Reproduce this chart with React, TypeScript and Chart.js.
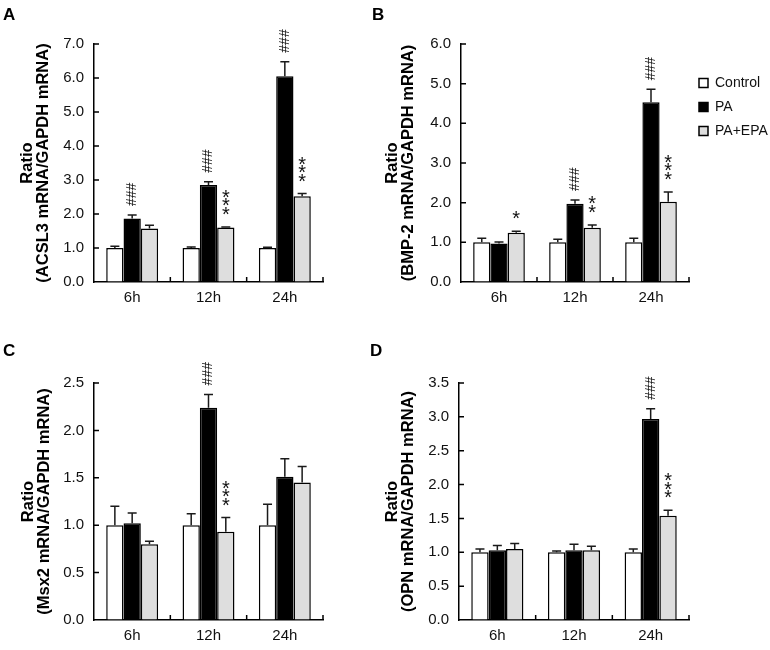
import React, { useEffect, useRef } from 'react';
import { Chart, registerables } from 'chart.js';

Chart.register(...registerables);

const FONT = '"Liberation Sans", Arial, Helvetica, sans-serif';

// ---- shared ----
const categories = ['6h', '12h', '24h'];
const seriesNames = ['Control', 'PA', 'PA+EPA'];
const seriesFill = ['#ffffff', '#000000', '#dedede'];

// ---- Panel A: ACSL3 ----
const aControl = [1.0, 1.0, 1.0];
const aControlErr = [0.05, 0.03, 0.02];
const aPA = [1.87, 2.85, 6.05];
const aPAErr = [0.1, 0.1, 0.43];
const aEPA = [1.57, 1.6, 2.52];
const aEPAErr = [0.1, 0.02, 0.08];
const aPAMarks = ['###', '###', '###'];
const aEPAMarks = ['', '***', '***'];

// ---- Panel B: BMP-2 ----
const bControl = [1.0, 1.0, 1.0];
const bControlErr = [0.1, 0.08, 0.1];
const bPA = [0.97, 1.97, 4.53];
const bPAErr = [0.04, 0.1, 0.33];
const bEPA = [1.24, 1.37, 2.02];
const bEPAErr = [0.04, 0.07, 0.25];
const bPAMarks = ['', '###', '###'];
const bEPAMarks = ['*', '**', '***'];

// ---- Panel C: Msx2 ----
const cControl = [1.0, 1.0, 1.0];
const cControlErr = [0.2, 0.12, 0.22];
const cPA = [1.02, 2.24, 1.51];
const cPAErr = [0.11, 0.14, 0.19];
const cEPA = [0.8, 0.93, 1.45];
const cEPAErr = [0.03, 0.15, 0.17];
const cPAMarks = ['', '###', ''];
const cEPAMarks = ['', '***', ''];

// ---- Panel D: OPN ----
const dControl = [1.0, 1.0, 1.0];
const dControlErr = [0.05, 0.02, 0.05];
const dPA = [1.03, 1.03, 2.97];
const dPAErr = [0.07, 0.09, 0.15];
const dEPA = [1.05, 1.03, 1.54];
const dEPAErr = [0.08, 0.06, 0.08];
const dPAMarks = ['', '', '###'];
const dEPAMarks = ['', '', '***'];

// y-axis settings
const aTicks = { max: 7, step: 1 };
const bTicks = { max: 6, step: 1 };
const cTicks = { max: 2.5, step: 0.5 };
const dTicks = { max: 3.5, step: 0.5 };

// inward tick marks on both axes
const innerTicksPlugin = {
  id: 'innerTicks',
  afterDraw(chart: any) {
    const ctx = chart.ctx;
    const xs = chart.scales.x;
    const ys = chart.scales.y;
    const area = chart.chartArea;
    ctx.save();
    ctx.strokeStyle = '#000';
    ctx.lineWidth = 1.5;
    ctx.beginPath();
    ys.ticks.forEach((t: any) => {
      const y = ys.getPixelForValue(t.value);
      if (Math.abs(y - area.bottom) < 1) return;
      ctx.moveTo(area.left, y);
      ctx.lineTo(area.left + 5, y);
    });
    const n = chart.data.labels.length;
    for (let i = 0; i < n; i++) {
      const x = xs.getPixelForValue(i + 0.5);
      ctx.moveTo(x, area.bottom);
      ctx.lineTo(x, area.bottom - 5);
    }
    ctx.stroke();
    ctx.restore();
  },
};

const errorBarPlugin = {
  id: 'errorBarsAndMarks',
  afterDatasetsDraw(chart: any) {
    const ctx = chart.ctx;
    const yScale = chart.scales.y;
    chart.data.datasets.forEach((ds: any, di: number) => {
      const meta = chart.getDatasetMeta(di);
      const errs = ds.errors || [];
      const marks = ds.marks || [];
      meta.data.forEach((bar: any, i: number) => {
        const v = ds.data[i];
        const e = errs[i] || 0;
        const x = bar.x;
        const top = yScale.getPixelForValue(v);
        const et = yScale.getPixelForValue(v + e);
        ctx.save();
        ctx.strokeStyle = '#1a1a1a';
        ctx.lineWidth = 1.5;
        ctx.beginPath();
        ctx.moveTo(x, top);
        ctx.lineTo(x, et);
        ctx.moveTo(x - 4.5, et);
        ctx.lineTo(x + 4.5, et);
        ctx.stroke();
        const mark = marks[i];
        if (mark) {
          ctx.fillStyle = '#111';
          if (mark[0] === '#') {
            ctx.font = `14px ${FONT}`;
            const w = ctx.measureText(mark).width;
            const cy = et - 9 - w / 2;
            ctx.translate(x, cy);
            ctx.rotate(-Math.PI / 2);
            ctx.textAlign = 'center';
            ctx.textBaseline = 'middle';
            ctx.fillText(mark, 0, 0);
          } else {
            ctx.font = `20px ${FONT}`;
            ctx.textAlign = 'center';
            ctx.textBaseline = 'alphabetic';
            const m = ctx.measureText('*');
            const asc = m.actualBoundingBoxAscent;
            const desc = m.actualBoundingBoxDescent;
            const h = asc + desc;
            const step = 8.5;
            const n = mark.length;
            for (let k = 0; k < n; k++) {
              const cy = et - 12 - h / 2 - (n - 1 - k) * step;
              ctx.fillText('*', x, cy + (asc - desc) / 2);
            }
          }
        }
        ctx.restore();
      });
    });
  },
};

type PanelSpec = {
  values: number[][];
  errors: number[][];
  marks: string[][];
  max: number;
  step: number;
  title: string;
  padTop: number;
  padRight: number;
  yWidth: number;
  xHeight: number;
  titlePad: number;
  legend: boolean;
};

function makeConfig(p: PanelSpec): any {
  const gridOpts = {
    display: true,
    drawOnChartArea: false,
    drawTicks: false,
  };
  return {
    type: 'bar',
    data: {
      labels: categories,
      datasets: seriesNames.map((name, si) => ({
        label: name,
        data: p.values[si],
        errors: p.errors[si],
        marks: p.marks[si],
        backgroundColor: seriesFill[si],
        borderColor: '#000',
        borderWidth: 1.5,
        categoryPercentage: 0.68,
        barPercentage: 1.0,
      })),
    },
    options: {
      responsive: false,
      maintainAspectRatio: false,
      animation: false,
      devicePixelRatio: 1,
      layout: { padding: { top: p.padTop, right: p.padRight, left: 0, bottom: 0 } },
      plugins: {
        tooltip: { enabled: false },
        legend: p.legend
          ? {
              display: true,
              position: 'right',
              align: 'start',
              maxWidth: 81,
              title: { display: true, text: '', padding: { top: 10, bottom: 0 }, font: { size: 10, family: FONT } },
              labels: {
                boxWidth: 9,
                boxHeight: 9,
                padding: 10,
                color: '#111',
                font: { size: 14, family: FONT },
              },
            }
          : { display: false },
      },
      scales: {
        x: {
          grid: { ...gridOpts, offset: true },
          border: { display: true, color: '#000', width: 1.5 },
          ticks: { color: '#111', font: { size: 15, family: FONT }, padding: 7 },
          afterFit: (s: any) => {
            s.height = p.xHeight;
          },
        },
        y: {
          min: 0,
          max: p.max,
          grid: gridOpts,
          border: { display: true, color: '#000', width: 1.5 },
          ticks: {
            stepSize: p.step,
            color: '#111',
            font: { size: 15, family: FONT },
            padding: 10,
            callback: (v: any) => Number(v).toFixed(1),
          },
          title: {
            display: true,
            text: ['Ratio', p.title],
            color: '#000',
            font: { size: 16.5, weight: 'bold', family: FONT, lineHeight: 0.95 },
            padding: { top: p.titlePad, bottom: 0 },
          },
          afterFit: (s: any) => {
            s.width = p.yWidth;
          },
        },
      },
    },
    plugins: [errorBarPlugin, innerTicksPlugin],
  };
}

const panels: { key: string; left: number; top: number; spec: PanelSpec }[] = [
  {
    key: 'A',
    left: 0,
    top: 0,
    spec: {
      values: [aControl, aPA, aEPA],
      errors: [aControlErr, aPAErr, aEPAErr],
      marks: [[], aPAMarks, aEPAMarks],
      max: aTicks.max,
      step: aTicks.step,
      title: '(ACSL3 mRNA/GAPDH mRNA)',
      padTop: 44,
      padRight: 62,
      yWidth: 94,
      xHeight: 43,
      titlePad: 20,
      legend: false,
    },
  },
  {
    key: 'B',
    left: 385,
    top: 0,
    spec: {
      values: [bControl, bPA, bEPA],
      errors: [bControlErr, bPAErr, bEPAErr],
      marks: [[], bPAMarks, bEPAMarks],
      max: bTicks.max,
      step: bTicks.step,
      title: '(BMP-2 mRNA/GAPDH mRNA)',
      padTop: 44,
      padRight: 0,
      yWidth: 76,
      xHeight: 43,
      titlePad: 0,
      legend: true,
    },
  },
  {
    key: 'C',
    left: 0,
    top: 325,
    spec: {
      values: [cControl, cPA, cEPA],
      errors: [cControlErr, cPAErr, cEPAErr],
      marks: [[], cPAMarks, cEPAMarks],
      max: cTicks.max,
      step: cTicks.step,
      title: '(Msx2 mRNA/GAPDH mRNA)',
      padTop: 58,
      padRight: 62,
      yWidth: 94,
      xHeight: 30,
      titlePad: 21,
      legend: false,
    },
  },
  {
    key: 'D',
    left: 385,
    top: 325,
    spec: {
      values: [dControl, dPA, dEPA],
      errors: [dControlErr, dPAErr, dEPAErr],
      marks: [[], dPAMarks, dEPAMarks],
      max: dTicks.max,
      step: dTicks.step,
      title: '(OPN mRNA/GAPDH mRNA)',
      padTop: 58,
      padRight: 81,
      yWidth: 74,
      xHeight: 30,
      titlePad: 0,
      legend: false,
    },
  },
];

const letterPos: Record<string, { x: number; y: number }> = {
  A: { x: 3, y: 6 },
  B: { x: 372, y: 6 },
  C: { x: 3, y: 342 },
  D: { x: 370, y: 342 },
};

function Panel({ spec, left, top }: { spec: PanelSpec; left: number; top: number }) {
  const ref = useRef<HTMLCanvasElement | null>(null);
  useEffect(() => {
    if (!ref.current) return;
    const chart = new Chart(ref.current, makeConfig(spec));
    return () => chart.destroy();
  }, [spec]);
  return (
    <canvas
      ref={ref}
      width={385}
      height={325}
      style={{ position: 'absolute', left, top, width: 385, height: 325, display: 'block' }}
    />
  );
}

export default function App() {
  return (
    <div
      style={{
        position: 'absolute',
        left: 0,
        top: 0,
        width: 770,
        height: 650,
        background: '#fff',
        overflow: 'hidden',
      }}
    >
      {panels.map((p) => (
        <Panel key={p.key} spec={p.spec} left={p.left} top={p.top} />
      ))}
      {panels.map((p) => (
        <div
          key={'l' + p.key}
          style={{
            position: 'absolute',
            left: letterPos[p.key].x,
            top: letterPos[p.key].y,
            font: `bold 17px ${FONT}`,
            lineHeight: '17px',
            color: '#000',
          }}
        >
          {p.key}
        </div>
      ))}
    </div>
  );
}
